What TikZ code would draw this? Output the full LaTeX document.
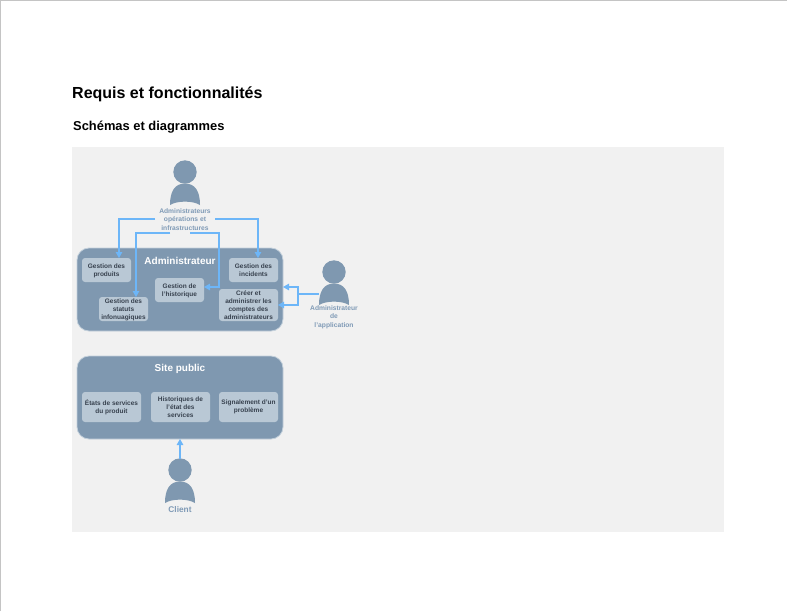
\documentclass[tikz,border=0pt]{standalone}
\usepackage{fontspec}
\setmainfont{Liberation Sans}
\usetikzlibrary{arrows.meta,calc}
\definecolor{panelgray}{HTML}{F1F1F1}
\definecolor{slate}{HTML}{7F98B0}
\definecolor{boxfill}{HTML}{B9C8D5}
\definecolor{boxedge}{HTML}{C3D0DB}
\definecolor{linkblue}{HTML}{6DB6F8}
\definecolor{inktext}{HTML}{38424F}
\definecolor{roletext}{HTML}{7F9AB6}
\definecolor{pageedge}{HTML}{C4C4C4}
\tikzset{
  x=1pt,y=-1pt,
  groupbox/.style={draw=boxedge,line width=.8pt,fill=slate,rounded corners=12pt},
  featbox/.style={fill=boxfill,rounded corners=3pt,inner sep=0pt,align=center,text=inktext,font=\fontsize{6.5}{8}\selectfont\bfseries},
  grouptitle/.style={text=white,font=\fontsize{10}{12}\selectfont\bfseries,inner sep=0pt},
  rolelabel/.style={text=roletext,font=\fontsize{6.7}{8.3}\selectfont\bfseries,align=center,inner sep=0pt},
  link/.style={draw=linkblue,line width=1.1pt,-{Triangle[length=6pt,width=6.5pt]}},
  plainlink/.style={draw=linkblue,line width=1.1pt},
  personfill/.style={fill=slate,draw=none},
}
\newcommand{\lowtext}[1]{\raisebox{-1pt}[\height][\depth]{\begin{tabular}{@{}c@{}}#1\end{tabular}}}
\newcommand{\personicon}[2]{%
  \fill[personfill] (#1,#2-11) circle[radius=11.7];
  \fill[personfill] (#1-15,#2+22) .. controls (#1-15,#2+8) and (#1-10,#2+0.5) .. (#1,#2+0.5)
     .. controls (#1+10,#2+0.5) and (#1+15,#2+8) .. (#1+15,#2+22)
     .. controls (#1+8,#2+17.5) and (#1-8,#2+17.5) .. (#1-15,#2+22) -- cycle;
}
\begin{document}
\begin{tikzpicture}
\useasboundingbox (0,0) rectangle (787,611);
\fill[white] (0,0) rectangle (787,611);
\draw[pageedge,line width=1pt] (0.5,611) -- (0.5,0.5) -- (787,0.5);
\node[anchor=base west,inner sep=0pt,font=\fontsize{16}{18}\selectfont\bfseries] (title) at (72,98.5) {Requis et fonctionnalités};
\node[anchor=base west,inner sep=0pt,font=\fontsize{12.9}{14}\selectfont\bfseries] (subtitle) at (73,130) {Schémas et diagrammes};
\fill[panelgray] (72,147) rectangle (724,532);

% groups
\draw[groupbox] (77,248) rectangle (283,331);
\draw[groupbox] (77,356) rectangle (283,439);
\path (283,287) coordinate (adminEdge) (180,439) coordinate (siteBottom);
\node[grouptitle] (admintitle) at (180,261) {Administrateur};
\node[grouptitle] (sitetitle) at (180,368.5) {Site public};

% feature boxes
\node[featbox,minimum width=49pt,minimum height=24pt] (produits) at (106.5,270) {\lowtext{Gestion des\\produits}};
\node[featbox,minimum width=49pt,minimum height=24pt] (statuts) at (123.5,309) {\lowtext{Gestion des\\statuts\\infonuagiques}};
\node[featbox,minimum width=49pt,minimum height=24pt] (historique) at (179.5,290) {\lowtext{Gestion de\\l'historique}};
\node[featbox,minimum width=49pt,minimum height=24pt] (incidents) at (253.5,270) {\lowtext{Gestion des\\incidents}};
\node[featbox,minimum width=59pt,minimum height=32pt] (comptes) at (248.5,305) {Créer et\\administrer les\\comptes des\\administrateurs};
\node[featbox,minimum width=59pt,minimum height=30pt] (etats) at (111.5,407) {États de services\\du produit};
\node[featbox,minimum width=59pt,minimum height=30pt] (histo) at (180.5,407) {Historiques de\\l'état des\\services};
\node[featbox,minimum width=59pt,minimum height=30pt] (signal) at (248.5,407) {Signalement d'un\\problème};

% people
\personicon{185}{183}
\personicon{334}{283}
\personicon{180}{481}
\node[rolelabel] (ops) at (185,219.5) {Administrateurs\\opérations et\\infrastructures};
\node[rolelabel] (appadmin) at (334,317) {Administrateur\\de\\l'application};
\node[rolelabel,font=\fontsize{8.3}{10}\selectfont\bfseries] (client) at (180,509.5) {Client};

% connector ends
\coordinate (opsL) at (155,219);
\coordinate (opsR) at (215,219);
\coordinate (opsLL) at (170,233);
\coordinate (opsLR) at (190,233);
\coordinate (appOut) at (319,294);
\coordinate (fork) at (298,294);
\coordinate (clientTop) at (180,459);

\draw[link] (opsL) -| (119,258);
\draw[link] (opsR) -| (258,258);
\draw[link] (opsLL) -| (136,297);
\draw[link] (opsLR) -| (219,287) -- (204,287);
\draw[plainlink] (appOut) -- (fork);
\draw[link] (fork) |- (adminEdge);
\draw[link] (fork) |- (278,305);
\draw[link] (clientTop) -- (siteBottom);
\end{tikzpicture}
\end{document}
